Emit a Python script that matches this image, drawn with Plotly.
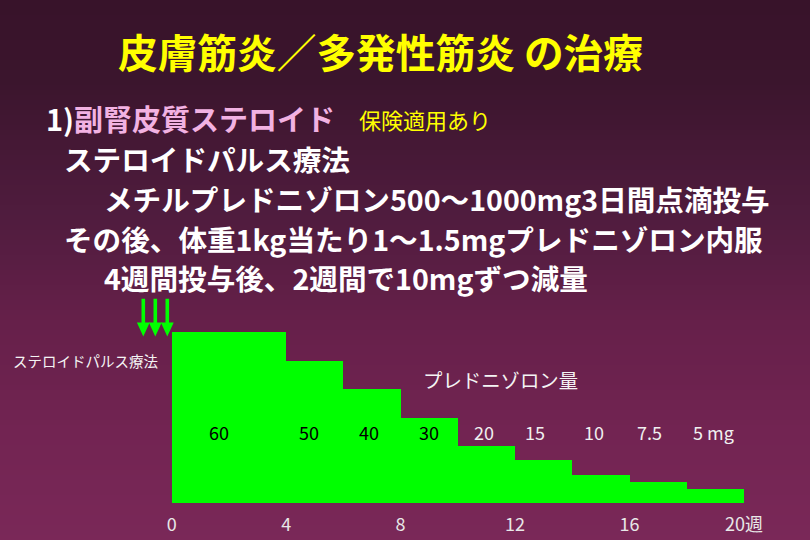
import numpy as np
import plotly.graph_objects as go

# Prednisolone taper schedule: start week, duration (weeks) and daily dose (mg)
start_week = [0, 4, 6, 8, 10, 12, 14, 16, 18]
duration_weeks = [4, 2, 2, 2, 2, 2, 2, 2, 2]
dose_mg = [60, 50, 40, 30, 20, 15, 10, 7.5, 5]

week_ticks = [0, 4, 8, 12, 16, 20]
week_tick_labels = ["0", "4", "8", "12", "16", "20週"]

title_text = "皮膚筋炎／多発性筋炎 の治療"
heading_num = "1)"
heading_text = "副腎皮質ステロイド"
insurance_note = "保険適用あり"
body_lines = [
    "ステロイドパルス療法",
    "メチルプレドニゾロン500～1000mg3日間点滴投与",
    "その後、体重1kg当たり1～1.5mgプレドニゾロン内服",
    "4週間投与後、2週間で10mgずつ減量",
]
pulse_label = "ステロイドパルス療法"
dose_axis_label = "プレドニゾロン量"

# ---- page geometry ----
W, H = 810, 540
MB = 37                      # bottom margin that holds the week ticks
PH = H - MB                  # plot area height in px
X0_PX, PX_PER_WEEK = 171.7, 28.615
PX_PER_MG = 2.843
FONT = "Noto Sans CJK JP"
GREEN = "#00FF00"


def pxx(x):
    return x / W


def pxy(y):
    return (PH - y) / PH


fig = go.Figure()

# stepped dose blocks
fig.add_trace(go.Bar(
    x=start_week, y=dose_mg, width=duration_weeks, offset=0,
    marker=dict(color=GREEN, line=dict(width=0)),
    hoverinfo="skip", showlegend=False,
))

# dose labels, all on one level; dark on the green, light on the background
label_level = 25
label_nudge_px = [-10, -6, -3, 0, -2, -9, -7, -9, -2]
annotations = []
for i, (s, d, v) in enumerate(zip(start_week, duration_weeks, dose_mg)):
    txt = f"{v:g}" + (" mg" if i == len(dose_mg) - 1 else "")
    annotations.append(dict(
        x=s + d / 2, y=label_level, xref="x", yref="y", text=txt,
        showarrow=False, xshift=label_nudge_px[i],
        font=dict(family=FONT, size=18,
                  color="#000000" if v > label_level else "#F0F0F0"),
    ))

# headline and body text
annotations.append(dict(
    x=pxx(380.5), y=pxy(50), xref="paper", yref="paper", text=title_text,
    showarrow=False, xanchor="center", yanchor="middle",
    font=dict(family=FONT, size=39.7, color="#FFFF00", weight="bold"),
))
annotations.append(dict(
    x=pxx(44), y=pxy(118), xref="paper", yref="paper",
    text=f"{heading_num}<span style='color:#F2B2E2'>{heading_text}</span>",
    showarrow=False, xanchor="left", yanchor="middle",
    font=dict(family=FONT, size=29, color="#FFFFFF", weight="bold"),
))
annotations.append(dict(
    x=pxx(357), y=pxy(119), xref="paper", yref="paper", text=insurance_note,
    showarrow=False, xanchor="left", yanchor="middle",
    font=dict(family=FONT, size=22, color="#FFFF00"),
))
line_pos = [(62, 158), (102, 198), (62, 238), (102, 277)]
for txt, (lx, ly) in zip(body_lines, line_pos):
    annotations.append(dict(
        x=pxx(lx), y=pxy(ly), xref="paper", yref="paper", text=txt,
        showarrow=False, xanchor="left", yanchor="middle",
        font=dict(family=FONT, size=28.6, color="#FFFFFF", weight="bold"),
    ))

annotations.append(dict(
    x=pxx(85.5), y=pxy(360), xref="paper", yref="paper", text=pulse_label,
    showarrow=False, xanchor="center", yanchor="middle",
    font=dict(family=FONT, size=14.5, color="#F4F4F4"),
))
annotations.append(dict(
    x=pxx(500), y=pxy(379), xref="paper", yref="paper", text=dose_axis_label,
    showarrow=False, xanchor="center", yanchor="middle",
    font=dict(family=FONT, size=19.4, color="#F4F4F4"),
))

# vertical gradient background drawn as thin bands
stops = np.array([0.0, 0.15, 0.4, 0.6, 0.8, 1.0])
cols = np.array([
    [56, 19, 42], [59, 21, 45], [80, 28, 62],
    [102, 32, 74], [114, 36, 82], [122, 40, 88],
])
shapes = []
n_bands = 108
for k in range(n_bands):
    t = (k + 0.5) / n_bands
    c = [int(round(np.interp(t, stops, cols[:, j]))) for j in range(3)]
    ytop = k * H / n_bands
    ybot = (k + 1) * H / n_bands + 0.6
    shapes.append(dict(
        type="rect", xref="paper", yref="paper", layer="below",
        x0=0, x1=1, y0=pxy(ybot), y1=pxy(ytop),
        fillcolor=f"rgb({c[0]},{c[1]},{c[2]})", line=dict(width=0),
    ))

# three pulse-infusion arrows just left of week 0, tips under the first dose level
for off in (-28.4, -16.4, -4.4):
    path = (f"M {off-1.8},33.7 L {off+1.8},33.7 L {off+1.8},10 L {off+6.4},10 "
            f"L {off},-4 L {off-6.4},10 L {off-1.8},10 Z")
    shapes.append(dict(
        type="path", xref="x", yref="y", xsizemode="pixel", ysizemode="pixel",
        xanchor=0, yanchor=dose_mg[0], path=path,
        fillcolor=GREEN, line=dict(width=0), layer="above",
    ))

fig.update_layout(
    width=W, height=H,
    margin=dict(l=0, r=0, t=0, b=MB, pad=0),
    paper_bgcolor="rgb(122,40,88)",
    plot_bgcolor="rgba(0,0,0,0)",
    showlegend=False,
    bargap=0,
    annotations=annotations,
    shapes=shapes,
    xaxis=dict(
        range=[-X0_PX / PX_PER_WEEK, (W - X0_PX) / PX_PER_WEEK],
        tickvals=week_ticks, ticktext=week_tick_labels,
        ticks="outside", ticklen=5, tickcolor="rgba(0,0,0,0)",
        showgrid=False, zeroline=False, showline=False, fixedrange=True,
        tickfont=dict(family=FONT, size=18, color="#E8E8E8"),
    ),
    yaxis=dict(
        range=[0, PH / PX_PER_MG], visible=False,
        showgrid=False, zeroline=False, fixedrange=True,
    ),
)

fig.write_html("out.html")
